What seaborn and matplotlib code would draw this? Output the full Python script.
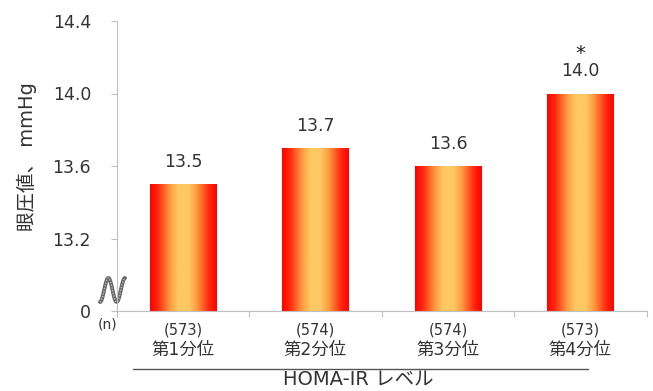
import numpy as np
import pandas as pd
import matplotlib
matplotlib.use("Agg")
import matplotlib.pyplot as plt
from matplotlib.colors import LinearSegmentedColormap
from matplotlib.lines import Line2D
import matplotlib.transforms as mtransforms
import seaborn as sns

# ---- data ----
categories = ["第1分位", "第2分位", "第3分位", "第4分位"]
values = [13.5, 13.7, 13.6, 14.0]
counts = ["(573)", "(574)", "(574)", "(573)"]
significant = [False, False, False, True]
ytick_values = [12.8, 13.2, 13.6, 14.0, 14.4]
ytick_labels = ["0", "13.2", "13.6", "14.0", "14.4"]
ylabel = "眼圧値、 mmHg"
xlabel = "HOMA-IR レベル"

sns.set_style("white")
plt.rcParams["font.family"] = ["DejaVu Sans", "Noto Sans CJK JP"]
TXT = "#333333"
GRID = "#BFBFBF"

fig = plt.figure(figsize=(6.53, 3.91), dpi=100)
ax = fig.add_axes([116.7 / 653, (391 - 311) / 391, 530 / 653, 290 / 391])

df = pd.DataFrame({"group": categories, "value": values})
sns.barplot(data=df, x="group", y="value", ax=ax, width=0.5,
            color="red", saturation=1, errorbar=None)

# gradient fill for bars
cmap = LinearSegmentedColormap.from_list(
    "grad",
    [(0.0, "#FF0000"), (0.12, "#FF2A10"), (0.3, "#FF9A40"),
     (0.42, "#FFC862"), (0.58, "#FFC862"), (0.7, "#FF9A40"),
     (0.88, "#FF2A10"), (1.0, "#FF0000")])
grad = np.linspace(0, 1, 256).reshape(1, -1)
for p in ax.patches:
    x0 = p.get_x()
    w = p.get_width()
    h = p.get_height()
    p.set_facecolor("none")
    p.set_edgecolor("none")
    im = ax.imshow(grad, cmap=cmap, aspect="auto",
                   extent=(x0, x0 + w, ytick_values[0], h), zorder=2)
    im.set_clip_path(p)

ax.set_xlim(-0.5, len(categories) - 0.5)
ax.set_ylim(ytick_values[0], ytick_values[-1])

# value labels
for i, (v, s) in enumerate(zip(values, significant)):
    ax.annotate(f"{v:.1f}", (i, v), xytext=(0, 16), textcoords="offset points",
                ha="center", va="center", fontsize=12.5, color=TXT)
    if s:
        ax.annotate("*", (i, v), xytext=(0, 29), textcoords="offset points",
                    ha="center", va="center", fontsize=14, color="#222222")

# axes styling
for side in ["top", "right"]:
    ax.spines[side].set_visible(False)
ax.spines["left"].set_color(GRID)
ax.spines["bottom"].set_color(GRID)
ax.set_yticks(ytick_values)
ax.set_yticklabels(ytick_labels)
ax.tick_params(axis="y", length=4.5, color=GRID, width=0.8, pad=14,
               labelsize=12.5, labelcolor=TXT, left=True)
ax.set_xticks(range(len(categories)))
ax.set_xticklabels([])
ax.tick_params(axis="x", length=0)
ax.set_xticks(np.arange(-0.5, len(categories), 1.0), minor=True)
ax.tick_params(axis="x", which="minor", length=4.5, color=GRID, width=0.8,
               bottom=True, direction="out")
ax.set_xlabel("")
ax.set_ylabel(ylabel, fontsize=14, color=TXT, labelpad=10)
ax.yaxis.set_label_coords(-(116.7 - 37) / 530, (311 - 157) / 290)

# category labels
trans = mtransforms.blended_transform_factory(ax.transData, ax.transAxes)
for i, (c, n) in enumerate(zip(categories, counts)):
    ax.text(i, -19 / 290, n, transform=trans, ha="center", va="center",
            fontsize=10.5, color=TXT)
    ax.text(i, -39 / 290, c, transform=trans, ha="center", va="center",
            fontsize=12.5, color=TXT)
ax.text((108 - 116.7) / 530, -14 / 290, "(n)", transform=ax.transAxes,
        ha="center", va="center", fontsize=10, color=TXT)

# group line and x label
ax.add_line(Line2D([(133 - 116.7) / 530, (588 - 116.7) / 530],
                   [-58 / 290, -58 / 290], transform=ax.transAxes,
                   color="#555555", lw=1.0, clip_on=False))
ax.text((358 - 116.7) / 530, -69 / 290, xlabel, transform=ax.transAxes,
        ha="center", va="center", fontsize=14, color=TXT)

# axis break symbol
t = np.linspace(0, 1, 60)
bx = 100 + 25 * t
by = 290 - 12 * np.sin(3 * np.pi * t - np.pi / 2)
ax.plot((bx - 116.7) / 530, (311 - by) / 290, transform=ax.transAxes,
        color="#666666", lw=2.8, clip_on=False, solid_capstyle="round")
ax.plot((bx - 116.7) / 530, (311 - by) / 290, transform=ax.transAxes,
        color="#BBBBBB", lw=1.0, ls=(0, (1, 1)), clip_on=False)

fig.savefig("out.png", dpi=100)
